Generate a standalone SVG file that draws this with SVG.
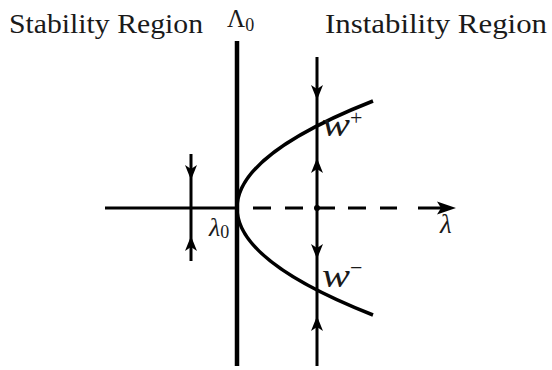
<svg xmlns="http://www.w3.org/2000/svg" xmlns:xlink="http://www.w3.org/1999/xlink" width="552" height="370" viewBox="0 0 552 370">
<style>
.ln{stroke:#000;fill:none;stroke-linecap:butt}
.txt{font-family:"Liberation Serif","Times New Roman",serif;fill:#1a1a1a}
.it{font-style:italic}
.ah{fill:#000}
</style>
<defs>
<path id="down" d="M-6,-15 L0,-11 L6,-15 L0,0 Z"/>
<path id="up" d="M-6,15 L0,11 L6,15 L0,0 Z"/>
</defs>
<rect width="552" height="370" fill="#fff"/>
<g id="connectors">
<line class="ln" x1="105" y1="208" x2="237" y2="208" stroke-width="3"/>
<path class="ln" stroke-width="3" d="M253,208H271M285,208H303M317,208H335M348,208H366M380,208H397M418,208H446"/>
<path class="ah" d="M456,208 L437,201.5 L441,208 L437,214.5 Z"/>
<line class="ln" x1="237" y1="41" x2="237" y2="366" stroke-width="4.5"/>
<line class="ln" x1="317" y1="57" x2="317" y2="366" stroke-width="3"/>
<line class="ln" x1="191" y1="154" x2="191" y2="261" stroke-width="3"/>
<path class="ln" stroke-width="3.5" d="M373,101 Q101,208 373,315"/>
<circle cx="317" cy="208" r="3" fill="#000"/>
<use href="#down" xlink:href="#down" x="191" y="180" class="ah"/>
<use href="#up" xlink:href="#up" x="191" y="236" class="ah"/>
<use href="#down" xlink:href="#down" x="317" y="100" class="ah"/>
<use href="#up" xlink:href="#up" x="317" y="158" class="ah"/>
<use href="#down" xlink:href="#down" x="317" y="259" class="ah"/>
<use href="#up" xlink:href="#up" x="317" y="316" class="ah"/>
</g>
<g id="label-stability"><text class="txt" x="9" y="33" font-size="27" textLength="194" lengthAdjust="spacingAndGlyphs">Stability Region</text></g>
<g id="label-instability"><text class="txt" x="325" y="33" font-size="27" textLength="222" lengthAdjust="spacingAndGlyphs">Instability Region</text></g>
<g id="label-Lambda0"><text class="txt" x="227" y="27" font-size="25">Λ<tspan font-size="18" dy="4">0</tspan></text></g>
<g id="label-lambda0"><text class="txt" x="209" y="236" font-size="26"><tspan class="it">λ</tspan><tspan font-size="18" dy="2">0</tspan></text></g>
<g id="label-lambda"><text class="txt it" x="440" y="233" font-size="27">λ</text></g>
<g id="label-wplus"><text class="txt" x="322" y="136" font-size="34"><tspan class="it" textLength="28" lengthAdjust="spacingAndGlyphs">w</tspan><tspan x="350" y="125" font-size="22">+</tspan></text></g>
<g id="label-wminus"><text class="txt" x="322" y="287" font-size="34"><tspan class="it" textLength="28" lengthAdjust="spacingAndGlyphs">w</tspan><tspan x="350" y="275" font-size="22">−</tspan></text></g>
</svg>
